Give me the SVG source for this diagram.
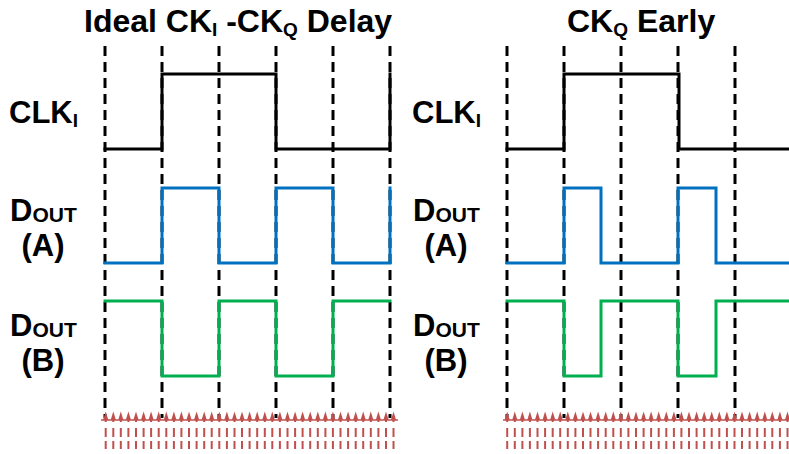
<svg xmlns="http://www.w3.org/2000/svg" xmlns:xlink="http://www.w3.org/1999/xlink" width="789" height="454" viewBox="0 0 789 454">
  <style>
    text { font-family: "Liberation Sans", Arial, sans-serif; font-weight: bold; fill: #000; }
    .title { font-size: 32px; }
    .lbl { font-size: 31px; }
    .sub { font-size: 19px; }
    .osub { font-size: 21px; }
    .grid { stroke: #000; stroke-width: 3; stroke-dasharray: 10 6; fill: none; }
    .wave { fill: none; stroke-width: 3; stroke-linejoin: miter; stroke-linecap: square; }
    .clk { stroke: #000; }
    .da { stroke: #0070c0; }
    .db { stroke: #00b050; }
    .base { stroke: #c0504d; stroke-width: 1.6; }
  </style>
  <defs>
    <!-- one clock-edge tick: arrowhead plus dashed shaft -->
    <g id="tick">
      <polygon points="0,411.5 2.6,420 -2.6,420" fill="#c0504d"/>
      <line x1="0" y1="418" x2="0" y2="450" stroke="#c0504d" stroke-width="2" stroke-dasharray="4 6 9 4 8 40"/>
    </g>
  </defs>

  <!-- headings -->
  <text class="title" x="84" y="32">Ideal CK<tspan class="sub" dy="4">I</tspan><tspan dy="-4"> -CK</tspan><tspan class="sub" dy="4">Q</tspan><tspan dy="-4"> Delay</tspan></text>
  <text class="title" x="567" y="32">CK<tspan class="sub" dy="4">Q</tspan><tspan dy="-4"> Early</tspan></text>

  <!-- signal names, left panel -->
  <g id="labels-left">
    <text class="lbl" x="9" y="123">CLK<tspan class="sub" dy="4">I</tspan></text>
    <text class="lbl" x="10" y="221">D<tspan class="osub" dy="1">OUT</tspan></text>
    <text class="lbl" x="43" y="256" text-anchor="middle">(A)</text>
    <text class="lbl" x="10" y="336">D<tspan class="osub" dy="1">OUT</tspan></text>
    <text class="lbl" x="43" y="371" text-anchor="middle">(B)</text>
  </g>

  <!-- signal names, right panel -->
  <g id="labels-right">
    <text class="lbl" x="412" y="123">CLK<tspan class="sub" dy="4">I</tspan></text>
    <text class="lbl" x="413" y="221">D<tspan class="osub" dy="1">OUT</tspan></text>
    <text class="lbl" x="446" y="256" text-anchor="middle">(A)</text>
    <text class="lbl" x="413" y="336">D<tspan class="osub" dy="1">OUT</tspan></text>
    <text class="lbl" x="446" y="371" text-anchor="middle">(B)</text>
  </g>

  <!-- time grid -->
  <g id="grid">
    <line class="grid" x1="105" y1="46" x2="105" y2="418"/>
    <line class="grid" x1="162" y1="46" x2="162" y2="418"/>
    <line class="grid" x1="219" y1="46" x2="219" y2="418"/>
    <line class="grid" x1="276" y1="46" x2="276" y2="418"/>
    <line class="grid" x1="333" y1="46" x2="333" y2="418"/>
    <line class="grid" x1="390" y1="46" x2="390" y2="418"/>
    <line class="grid" x1="507" y1="46" x2="507" y2="418"/>
    <line class="grid" x1="564" y1="46" x2="564" y2="418"/>
    <line class="grid" x1="621" y1="46" x2="621" y2="418"/>
    <line class="grid" x1="678" y1="46" x2="678" y2="418"/>
    <line class="grid" x1="735" y1="46" x2="735" y2="418"/>
  </g>

  <!-- waveforms -->
  <g id="waves">
    <polyline class="wave clk" points="105,149 162,149 162,74 276,74 276,149 390,149 390,74"/>
    <polyline class="wave da" points="105,263 162,263 162,188 219,188 219,263 276,263 276,188 333,188 333,263 390,263 390,188"/>
    <polyline class="wave db" points="105,301 162,301 162,376 219,376 219,301 276,301 276,376 333,376 333,301 390,301"/>
    <polyline class="wave clk" points="507,149 564,149 564,74 679,74 679,149 790,149"/>
    <polyline class="wave da" points="507,263 564,263 564,188 601,188 601,263 678,263 678,188 716,188 716,263 790,263"/>
    <polyline class="wave db" points="507,301 564,301 564,376 601,376 601,301 678,301 678,376 716,376 716,301 790,301"/>
  </g>

  <!-- edge ticks, left panel -->
  <g id="ticks-left">
    <line class="base" x1="101" y1="420" x2="398" y2="420"/>
    <use xlink:href="#tick" x="105.7"/><use xlink:href="#tick" x="113.3"/><use xlink:href="#tick" x="120.8"/><use xlink:href="#tick" x="128.4"/>
    <use xlink:href="#tick" x="136.0"/><use xlink:href="#tick" x="143.6"/><use xlink:href="#tick" x="151.1"/><use xlink:href="#tick" x="158.7"/>
    <use xlink:href="#tick" x="166.3"/><use xlink:href="#tick" x="173.9"/><use xlink:href="#tick" x="181.4"/><use xlink:href="#tick" x="189.0"/>
    <use xlink:href="#tick" x="196.6"/><use xlink:href="#tick" x="204.2"/><use xlink:href="#tick" x="211.7"/><use xlink:href="#tick" x="219.3"/>
    <use xlink:href="#tick" x="226.9"/><use xlink:href="#tick" x="234.5"/><use xlink:href="#tick" x="242.0"/><use xlink:href="#tick" x="249.6"/>
    <use xlink:href="#tick" x="257.2"/><use xlink:href="#tick" x="264.8"/><use xlink:href="#tick" x="272.3"/><use xlink:href="#tick" x="279.9"/>
    <use xlink:href="#tick" x="287.5"/><use xlink:href="#tick" x="295.1"/><use xlink:href="#tick" x="302.6"/><use xlink:href="#tick" x="310.2"/>
    <use xlink:href="#tick" x="317.8"/><use xlink:href="#tick" x="325.4"/><use xlink:href="#tick" x="332.9"/><use xlink:href="#tick" x="340.5"/>
    <use xlink:href="#tick" x="348.1"/><use xlink:href="#tick" x="355.7"/><use xlink:href="#tick" x="363.2"/><use xlink:href="#tick" x="370.8"/>
    <use xlink:href="#tick" x="378.4"/><use xlink:href="#tick" x="386.0"/><use xlink:href="#tick" x="393.5"/>
  </g>

  <!-- edge ticks, right panel -->
  <g id="ticks-right">
    <line class="base" x1="503" y1="420" x2="789" y2="420"/>
    <use xlink:href="#tick" x="507.2"/><use xlink:href="#tick" x="514.8"/><use xlink:href="#tick" x="522.4"/><use xlink:href="#tick" x="529.9"/>
    <use xlink:href="#tick" x="537.5"/><use xlink:href="#tick" x="545.1"/><use xlink:href="#tick" x="552.7"/><use xlink:href="#tick" x="560.2"/>
    <use xlink:href="#tick" x="567.8"/><use xlink:href="#tick" x="575.4"/><use xlink:href="#tick" x="583.0"/><use xlink:href="#tick" x="590.5"/>
    <use xlink:href="#tick" x="598.1"/><use xlink:href="#tick" x="605.7"/><use xlink:href="#tick" x="613.3"/><use xlink:href="#tick" x="620.8"/>
    <use xlink:href="#tick" x="628.4"/><use xlink:href="#tick" x="636.0"/><use xlink:href="#tick" x="643.6"/><use xlink:href="#tick" x="651.1"/>
    <use xlink:href="#tick" x="658.7"/><use xlink:href="#tick" x="666.3"/><use xlink:href="#tick" x="673.9"/><use xlink:href="#tick" x="681.4"/>
    <use xlink:href="#tick" x="689.0"/><use xlink:href="#tick" x="696.6"/><use xlink:href="#tick" x="704.2"/><use xlink:href="#tick" x="711.7"/>
    <use xlink:href="#tick" x="719.3"/><use xlink:href="#tick" x="726.9"/><use xlink:href="#tick" x="734.5"/><use xlink:href="#tick" x="742.0"/>
    <use xlink:href="#tick" x="749.6"/><use xlink:href="#tick" x="757.2"/><use xlink:href="#tick" x="764.8"/><use xlink:href="#tick" x="772.3"/>
    <use xlink:href="#tick" x="779.9"/><use xlink:href="#tick" x="787.5"/>
  </g>
</svg>
